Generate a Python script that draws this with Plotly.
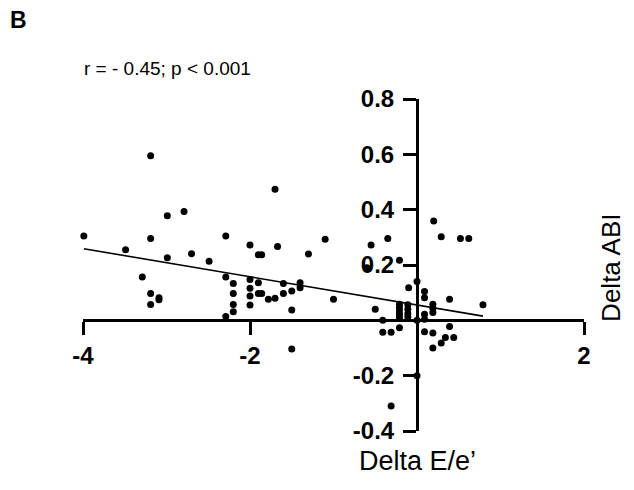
import numpy as np
import plotly.graph_objects as go

# Data (Delta E/e' vs Delta ABI)
delta_ee = [
    -3.99, -3.19, -2.99, -2.79, -3.19, -3.49, -2.99, -2.70, -2.49, -2.29,
    -2.00, -1.90, -1.86, -1.70, -1.67, -1.30, -1.10, -3.29, -3.19, -3.09,
    -3.09, -3.19, -2.29, -2.20, -2.20, -2.20, -2.20, -2.29, -2.00, -2.00,
    -2.00, -2.00, -1.90, -1.90, -1.86, -1.78, -1.70, -1.60, -1.60, -1.50,
    -1.40, -1.40, -1.50, -1.00, -1.50,
    -0.55, -0.35, -0.21, -0.60, 0.20, 0.29, 0.52, 0.62, 0.00, -0.10,
    0.09, 0.09, 0.39, 0.79, -0.50, -0.21, -0.21, -0.21, -0.21, -0.21,
    -0.21, -0.11, -0.11, -0.11, -0.11, 0.19, 0.19, 0.19, 0.09, 0.09,
    -0.41, -0.41, -0.31, 0.00, 0.09, 0.19, 0.39, 0.34, 0.44, 0.29,
    0.19, 0.00, -0.31,
]
delta_abi = [
    0.305, 0.595, 0.378, 0.393, 0.296, 0.255, 0.226, 0.241, 0.214, 0.305,
    0.272, 0.237, 0.237, 0.474, 0.267, 0.240, 0.293, 0.157, 0.097, 0.082,
    0.074, 0.057, 0.157, 0.133, 0.097, 0.057, 0.031, 0.014, 0.148, 0.116,
    0.088, 0.055, 0.136, 0.097, 0.097, 0.076, 0.080, 0.133, 0.097, 0.106,
    0.136, 0.118, 0.037, 0.076, -0.104,
    0.272, 0.296, 0.217, 0.190, 0.359, 0.302, 0.296, 0.296, 0.140, 0.118,
    0.104, 0.082, 0.076, 0.056, 0.040, 0.058, 0.046, 0.034, 0.022, 0.010,
    -0.027, 0.056, 0.040, 0.024, 0.012, 0.058, 0.044, 0.028, 0.022, 0.004,
    0.000, -0.043, -0.043, 0.000, -0.041, -0.046, -0.022, -0.062, -0.062, -0.082,
    -0.100, -0.200, -0.310,
]

x_ticks = [-4, -2, 2]
x_tick_labels = ["-4", "-2", "2"]
y_ticks = [-0.4, -0.2, 0.2, 0.4, 0.6, 0.8]
y_tick_labels = ["-0.4", "-0.2", "0.2", "0.4", "0.6", "0.8"]

panel_label = "B"
stats_text = "r = - 0.45; p < 0.001"
x_title = "Delta E/e\u2019"
y_title = "Delta ABI"

x_arr = np.array(delta_ee)
y_arr = np.array(delta_abi)
slope, intercept = np.polyfit(x_arr, y_arr, 1)
fit_x = [float(x_arr.min()), float(x_arr.max())]
fit_y = [slope * v + intercept for v in fit_x]

FONT = "Liberation Sans, Arial, sans-serif"

fig = go.Figure()
fig.add_trace(go.Scatter(
    x=delta_ee, y=delta_abi, mode="markers",
    marker=dict(color="black", size=7, line=dict(width=0)),
    cliponaxis=False, showlegend=False,
))
fig.add_trace(go.Scatter(
    x=fit_x, y=fit_y, mode="lines",
    line=dict(color="black", width=1.6),
    cliponaxis=False, showlegend=False,
))

axis_common = dict(
    showgrid=False, zeroline=False, showline=True,
    linecolor="black", linewidth=3,
    ticks="outside", ticklen=13, tickwidth=3, tickcolor="black",
    tickfont=dict(family=FONT, size=24, color="black", weight="bold"),
    anchor="free", automargin=False,
)

fig.update_layout(
    template="none",
    width=634, height=490,
    margin=dict(l=83, r=50, t=99, b=59, autoexpand=False),
    paper_bgcolor="white", plot_bgcolor="white",
    xaxis=dict(range=[-4, 2], domain=[0, 1], position=1/3,
               tickmode="array", tickvals=x_ticks, ticktext=x_tick_labels,
               ticklabelstandoff=0, **axis_common),
    yaxis=dict(range=[-0.4, 0.8], domain=[0, 1], position=4/6,
               tickmode="array", tickvals=y_ticks, ticktext=y_tick_labels,
               ticklabelstandoff=4, **axis_common),
    annotations=[
        dict(text=panel_label, xref="paper", yref="paper", x=-0.15, y=1.238,
             xanchor="left", yanchor="middle", showarrow=False,
             font=dict(family=FONT, size=23, color="black", weight="bold")),
        dict(text=stats_text, xref="paper", yref="paper", x=-0.002, y=1.093,
             xanchor="left", yanchor="middle", showarrow=False,
             font=dict(family=FONT, size=19, color="black")),
        dict(text=x_title, xref="x", yref="paper", x=0.0, y=-0.09,
             xanchor="center", yanchor="middle", showarrow=False,
             font=dict(family=FONT, size=27, color="black")),
        dict(text=y_title, xref="paper", yref="paper", x=1.055, y=0.49,
             xanchor="center", yanchor="middle", showarrow=False, textangle=-90,
             font=dict(family=FONT, size=26, color="black")),
    ],
)

fig.write_html("out.html", config={"displayModeBar": False},
               post_script="document.body.style.margin='0';")
